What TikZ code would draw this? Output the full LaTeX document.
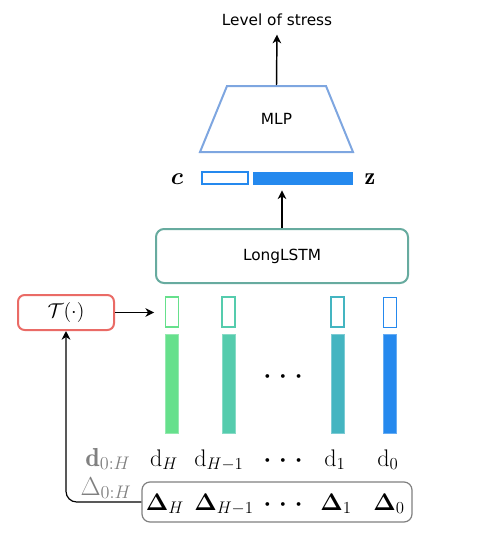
\RequirePackage{fix-cm}
\documentclass[tikz,border=0pt]{standalone}
\usepackage{amsmath,amssymb}
\usepackage{fontspec}
\usepackage{tikz}
\usetikzlibrary{arrows,arrows.meta,shapes,positioning}
\newfontfamily\boxfont{DejaVu Sans}
\newcommand{\seqdots}{\ensuremath{{\boldsymbol{\cdot}}\mkern6mu{\boldsymbol{\cdot}}\mkern6mu{\boldsymbol{\cdot}}}}
\definecolor{mlpblue}{HTML}{7EA6E0}
\definecolor{zblue}{HTML}{2589EE}
\definecolor{lstmgreen}{HTML}{67AB9F}
\definecolor{tred}{HTML}{EA6B66}
\definecolor{colA}{HTML}{66E08C}
\definecolor{colB}{HTML}{55CCAD}
\definecolor{colC}{HTML}{44B5C1}
\definecolor{colD}{HTML}{2589EE}
\definecolor{seqgray}{HTML}{808080}
\tikzset{style={>={Stealth[length=6.5pt,width=6.5pt,inset=2pt]}}}
\tikzset{block/.style={rectangle,rounded corners=6pt,fill=white,line width=1.5pt,inner sep=0mm,font=\boxfont\fontsize{11.5}{13}\selectfont}}
\tikzset{mlpbox/.style={trapezium,trapezium left angle=67.75,trapezium right angle=67.75,
          text width=74.25pt,align=center,text height=28.95pt,text depth=20.55pt,inner sep=0mm,
          draw=mlpblue,line width=1.5pt,font=\boxfont\fontsize{11.5}{13}\selectfont}}
\tikzset{vecin/.style={rectangle,fill=white,draw=#1,line width=1.1pt,minimum width=9.75pt,minimum height=22.5pt,inner sep=0mm}}
\tikzset{vecbar/.style={rectangle,fill=#1,draw=#1!70!white,line width=0.6pt,minimum width=9.75pt,minimum height=74.25pt,inner sep=0mm}}
\tikzset{seq/.style={font=\fontsize{18}{21}\selectfont,inner sep=0mm,anchor=base}}
\tikzset{seqname/.style={font=\fontsize{19.5}{23}\selectfont,text=seqgray,inner sep=0mm,anchor=base}}
\tikzset{veclabel/.style={font=\fontsize{18}{21}\selectfont,inner sep=0mm}}
\tikzset{flow/.style={->,line width=1.1pt}}

\begin{document}
\begin{tikzpicture}[x=0.75pt,y=-0.75pt]
    \useasboundingbox (0,0) rectangle (486,537);

    \node[font=\boxfont\fontsize{11.5}{13}\selectfont] (stress) at (277,20) {Level of stress};
    \node[mlpbox] (mlp) at (276.5,119) {MLP};

    \node[rectangle,fill=white,draw=zblue,line width=1.1pt,minimum width=34.5pt,minimum height=9pt,inner sep=0mm] (cvec) at (225,178) {};
    \node[rectangle,fill=zblue,draw=zblue,line width=0.6pt,minimum width=74.25pt,minimum height=9pt,inner sep=0mm] (zvec) at (302.5,178) {};
    \node[veclabel] (clbl) at (177,179) {$\boldsymbol{c}$};
    \node[veclabel] (zlbl) at (370,179) {$\mathbf{z}$};

    \node[block,draw=lstmgreen,minimum width=189pt,minimum height=40.5pt] (lstm) at (282,256) {LongLSTM};
    \node[block,draw=tred,rounded corners=5pt,minimum width=72pt,minimum height=26.25pt,font=\fontsize{15}{18}\selectfont] (tf) at (66,312.5) {$\mathcal{T}(\cdot)$};

    \node[vecin=colA] (in1) at (172,312) {};
    \node[vecin=colB] (in2) at (228.5,312) {};
    \node[vecin=colC] (in3) at (337.5,312) {};
    \node[vecin=colD] (in4) at (390,312.5) {};
    \node[vecbar=colA] (bar1) at (172,383.5) {};
    \node[vecbar=colB] (bar2) at (228.5,383.5) {};
    \node[vecbar=colC] (bar3) at (337.5,383.5) {};
    \node[vecbar=colD] (bar4) at (390,383.5) {};
    \node[veclabel] (bardots) at (283,377) {\seqdots};

    \node[seqname] (dname) at (108,466) {$\mathbf{d}_{0:H}$};
    \node[seq] (d1) at (164,466) {$\mathrm{d}_H$};
    \node[seq] (d2) at (219,466) {$\mathrm{d}_{H-1}$};
    \node[seq] (d3) at (283,466) {\seqdots};
    \node[seq] (d4) at (335,466) {$\mathrm{d}_1$};
    \node[seq] (d5) at (388,466) {$\mathrm{d}_0$};

    \node[rectangle,rounded corners=6pt,draw=seqgray,line width=0.9pt,minimum width=202.5pt,minimum height=30pt,inner sep=0mm] (dbox) at (277,502) {};
    \node[seqname] (deltaname) at (106,495) {$\Delta_{0:H}$};
    \node[seq] (del1) at (165,510) {$\boldsymbol{\Delta}_H$};
    \node[seq] (del2) at (224,510) {$\boldsymbol{\Delta}_{H-1}$};
    \node[seq] (del3) at (283,510) {\seqdots};
    \node[seq] (del4) at (336,510) {$\boldsymbol{\Delta}_1$};
    \node[seq] (del5) at (389,510) {$\boldsymbol{\Delta}_0$};

    \draw[flow,shorten >=3pt] (mlp.north) -- (stress.south);
    \draw[flow,shorten >=4.5pt] (lstm.north) -- (lstm.north |- zvec.south);
    \draw[flow,shorten >=8pt] (tf.east) -- (tf.east -| in1.west);
    \draw[flow,line width=0.9pt,rounded corners=8pt] (dbox.west) -| (tf.south);
\end{tikzpicture}
\end{document}
